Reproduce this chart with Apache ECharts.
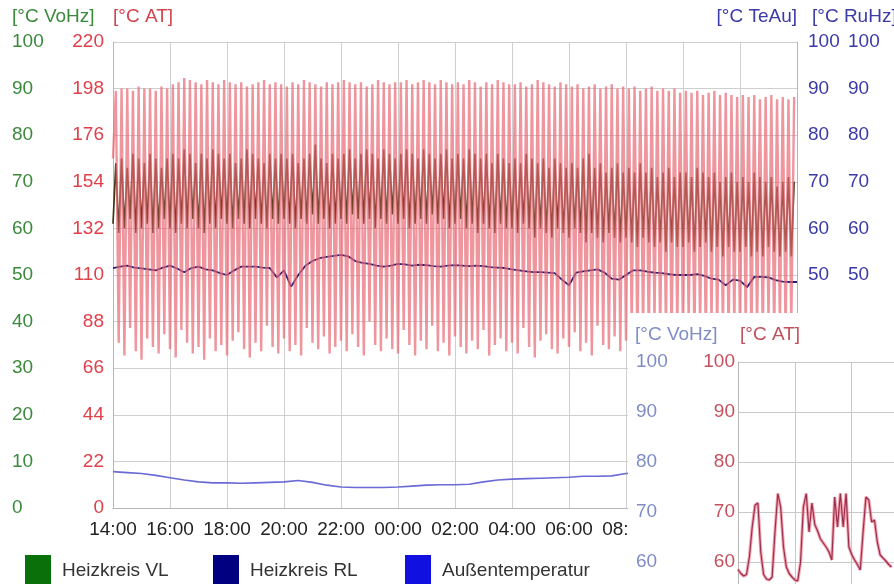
<!DOCTYPE html>
<html><head><meta charset="utf-8">
<script src="https://cdn.jsdelivr.net/npm/echarts@6/dist/echarts.min.js"></script>
<style>
html,body{margin:0;padding:0;width:894px;height:584px;overflow:hidden;background:#fff;}
#main{position:absolute;left:0;top:0;width:894px;height:584px;}
#inset{position:absolute;left:628px;top:313px;width:420px;height:600px;background:#fff;}
</style></head><body>
<div id="main"></div><div id="inset"></div>
<script>
// ---- main chart data (6-minute samples from 14:00) ----
const atPeak = [
197,198,198,197,199,198,198,197,199,198,
200,201,203,202,201,200,202,201,200,202,
201,200,201,199,200,201,202,200,201,200,
199,201,200,202,201,200,199,201,200,201,
202,201,200,201,199,200,202,201,200,201,
201,202,200,201,202,201,200,202,201,200,
201,200,202,201,199,201,200,202,201,200,
200,201,199,200,202,201,200,199,201,200,
199,200,198,199,200,198,199,200,198,199,
198,199,197,198,199,197,198,197,198,196,
197,196,197,195,196,197,195,196,195,194,
195,194,195,193,194,195,193,194,193,194];
const atTrough = [
165,78,72,85,74,70,80,76,73,82,
75,71,84,78,73,76,70,80,74,77,
72,79,83,75,71,78,74,86,76,73,
80,74,77,72,85,78,75,81,73,76,
79,74,82,76,72,88,77,74,80,75,
73,84,77,72,79,75,86,74,78,72,
81,76,73,79,75,84,72,77,80,74,
78,73,85,76,71,79,82,75,73,80,
76,83,74,78,72,86,77,75,81,74,
79,85,76,82,78,88,80,84,77,83,
80,86,78,84,79,87,81,83,78,85,
82,86,79,84,81,88,80,85,82,86];
const vlHigh = [
74,75,73,76,75,74,76,75,73,75,
76,75,77,76,74,76,75,77,76,75,
76,74,75,77,76,75,74,76,75,76,
75,76,74,75,76,78,75,74,76,75,
76,77,75,76,77,76,75,77,76,75,
76,77,76,75,77,76,75,76,77,75,
76,75,77,76,75,76,74,76,75,74,
75,74,76,75,74,75,73,75,74,73,
74,73,75,76,73,74,72,73,74,72,
73,72,74,72,73,71,72,73,71,72,
72,71,73,72,71,72,70,71,72,70,
71,70,72,71,70,71,69,70,71,70];
const vlLow = [
61,59,60,62,59,60,61,59,60,62,
60,59,61,60,62,60,59,61,60,62,
61,60,62,61,60,62,61,60,62,61,
62,61,60,62,61,63,61,62,60,61,
62,61,63,62,61,62,60,62,61,63,
61,62,60,61,62,61,63,61,62,60,
61,62,60,61,59,61,60,59,61,60,
60,59,61,60,58,60,59,58,60,59,
58,60,59,57,59,58,57,59,58,57,
58,57,56,58,57,56,57,55,57,56,
56,57,55,56,57,55,56,54,56,55,
55,56,54,55,54,56,55,54,55,54];
// Heizkreis RL, 15-minute samples
const rlValues = [
51.5,51.8,52.0,51.6,51.4,51.2,51.0,51.6,52.0,51.4,
50.6,51.5,51.8,51.2,51.0,50.4,50.0,51.0,51.8,51.8,
51.8,51.6,51.5,49.5,51.0,47.5,50.0,52.0,53.0,53.6,
53.9,54.1,54.3,54.0,53.0,52.6,52.4,52.0,51.8,52.0,
52.4,52.3,52.0,52.2,52.1,51.9,51.8,52.0,52.1,52.0,
51.9,52.0,51.9,51.7,51.6,51.5,51.2,51.0,50.8,50.6,
50.6,50.5,50.4,49.0,47.8,50.5,50.8,51.0,51.2,50.5,
49.2,49.0,50.0,51.0,51.0,50.7,50.5,50.4,50.2,50.0,
50.0,50.0,50.2,49.8,49.2,49.0,47.8,49.0,48.8,47.4,
49.6,49.6,49.5,48.9,48.6,48.5,48.5];
// Außentemperatur, 30-minute samples
const outValues = [
7.8,7.6,7.4,7.0,6.5,6.0,5.6,5.4,5.4,5.3,
5.4,5.5,5.6,5.9,5.5,4.9,4.5,4.4,4.4,4.4,
4.5,4.7,4.9,5.0,5.0,5.1,5.6,6.0,6.2,6.3,
6.4,6.5,6.6,6.8,6.8,6.9,7.4,7.5,7.6];
// ---- inset chart data ----
const insetAT = [
58.5,57.7,57.2,57.5,61,67,71.4,71.8,62,57.5,
56.6,56.4,57,66,73.7,71,63,59,57.7,57,
56.4,56.2,60,71,73.7,66,71.8,67.5,66.2,64.6,
63.8,63,62,60.4,73,67,73.7,67,73.7,63,
61.5,60.4,59.5,58.4,66,73,72.4,68,68.4,64,
61.4,60.8,60.2,59.5,59];

function hhmm(min){const t=(14*60+min)%(24*60);const h=Math.floor(t/60),m=t%60;return (h<10?'0':'')+h+':'+(m<10?'0':'')+m;}
const cats=[];for(let i=0;i<=240;i++)cats.push(hhmm(i*6));
const rlCats=[];for(let i=0;i<=96;i++)rlCats.push(hhmm(i*15));
const outCats=[];for(let i=0;i<=48;i++)outCats.push(hhmm(i*30));
const atData=[],vlData=[];
for(let k=0;k<atPeak.length;k++){atData.push(atTrough[k],atPeak[k]);vlData.push(vlLow[k],vlHigh[k]);}
const insetCats=[];for(let i=0;i<=102;i++)insetCats.push(String(i));

const FONT='"Liberation Sans", Arial, sans-serif';
const FS=19;
const GRIDC='#cfcfcf';

const main=echarts.init(document.getElementById('main'),null,{renderer:'canvas'});
function legendFor(name,color,left){
  return {data:[{name:name,itemStyle:{color:color,borderWidth:0}}],left:left,top:555,padding:0,icon:'rect',
    itemWidth:26,itemHeight:32,lineStyle:{opacity:0,width:0},
    textStyle:{fontFamily:FONT,fontSize:FS,color:'#333',padding:[0,0,0,6]}};
}
main.setOption({
  animation:false,
  backgroundColor:'#fff',
  grid:{left:113,right:97,top:42,bottom:76,containLabel:false},
  legend:[legendFor('Heizkreis VL','#0a700a',25),legendFor('Heizkreis RL','#000080',213),legendFor('Außentemperatur','#1010e0',405)],
  graphic:[
    {type:'text',left:12,top:7,style:{text:'[°C VoHz]',fill:'#3b8a3b',font:FS+'px '+FONT}},
    {type:'text',left:113,top:7,style:{text:'[°C AT]',fill:'#d0454f',font:FS+'px '+FONT}},
    {type:'text',right:97,top:7,style:{text:'[°C TeAu]',fill:'#3a3aa8',font:FS+'px '+FONT}},
    {type:'text',left:812,top:7,style:{text:'[°C RuHz]',fill:'#3a3aa8',font:FS+'px '+FONT}}
  ],
  xAxis:[
    {type:'category',data:cats,boundaryGap:false,
     axisLine:{show:true,lineStyle:{color:'#b5b5b5'}},axisTick:{show:false},
     axisLabel:{interval:19,margin:12,color:'#222',fontSize:FS,fontFamily:FONT},
     splitLine:{show:true,interval:19,lineStyle:{color:GRIDC}}},
    {type:'category',data:rlCats,boundaryGap:false,show:false},
    {type:'category',data:outCats,boundaryGap:false,show:false}
  ],
  yAxis:[
    {type:'value',position:'left',min:0,max:100,interval:10,
     axisLine:{show:false},axisTick:{show:false},
     axisLabel:{color:'#3b8a3b',align:'left',margin:101,fontSize:FS,fontFamily:FONT},
     splitLine:{show:true,lineStyle:{color:GRIDC}}},
    {type:'value',position:'left',min:0,max:220,interval:22,
     axisLine:{show:true,lineStyle:{color:'#b5b5b5'}},axisTick:{show:false},
     axisLabel:{color:'#e0404a',margin:9,fontSize:FS,fontFamily:FONT},splitLine:{show:false}},
    {type:'value',position:'right',min:0,max:100,interval:10,
     axisLine:{show:true,lineStyle:{color:'#b5b5b5'}},axisTick:{show:false},
     axisLabel:{color:'#3a3aa8',margin:11,fontSize:FS,fontFamily:FONT},splitLine:{show:false}},
    {type:'value',position:'right',min:0,max:100,interval:10,
     axisLine:{show:false},axisTick:{show:false},
     axisLabel:{color:'#3a3aa8',margin:51,fontSize:FS,fontFamily:FONT},splitLine:{show:false}}
  ],
  series:[
    {name:'Außentemperatur',type:'line',xAxisIndex:2,yAxisIndex:2,data:outValues,showSymbol:false,smooth:false,
     itemStyle:{color:'#1010e0'},lineStyle:{color:'#6a6ad6',width:1.6}},
    {name:'Heizkreis RL',type:'line',xAxisIndex:1,yAxisIndex:3,data:rlValues,showSymbol:false,
     itemStyle:{color:'#000080'},lineStyle:{color:'#2a1a70',width:1.8}},
    {name:'Heizkreis VL',type:'line',xAxisIndex:0,yAxisIndex:0,data:vlData,showSymbol:false,
     itemStyle:{color:'#0a700a'},lineStyle:{color:'#423612',width:1.7}},
    {name:'AT',type:'line',xAxisIndex:0,yAxisIndex:1,data:atData,showSymbol:false,
     itemStyle:{color:'#e05a66'},lineStyle:{color:'rgba(232,104,116,0.7)',width:2.4}}
  ]
});

const inset=echarts.init(document.getElementById('inset'),null,{renderer:'canvas'});
inset.setOption({
  animation:false,
  backgroundColor:'#fff',
  grid:{left:110,top:49,width:290,height:500},
  graphic:[
    {type:'text',left:7,top:12,style:{text:'[°C VoHz]',fill:'#7f8cc8',font:FS+'px '+FONT}},
    {type:'text',left:112,top:12,style:{text:'[°C AT]',fill:'#c0505a',font:FS+'px '+FONT}}
  ],
  xAxis:{type:'category',data:insetCats,boundaryGap:false,
    axisLine:{show:false},axisTick:{show:false},axisLabel:{show:false},
    splitLine:{show:true,interval:19,lineStyle:{color:'#c8c8c8'}}},
  yAxis:[
    {type:'value',position:'left',min:0,max:100,interval:10,
     axisLine:{show:false},axisTick:{show:false},
     axisLabel:{color:'#7f8cc8',align:'left',margin:102,fontSize:FS,fontFamily:FONT},
     splitLine:{show:true,lineStyle:{color:'#c8c8c8'}}},
    {type:'value',position:'left',min:0,max:100,interval:10,
     axisLine:{show:true,lineStyle:{color:'#b5b5b5'}},axisTick:{show:false},
     axisLabel:{color:'#c8505e',margin:3,fontSize:FS,fontFamily:FONT},splitLine:{show:false}}
  ],
  series:[
    {type:'line',yAxisIndex:1,data:insetAT,showSymbol:false,lineStyle:{color:'rgba(240,140,155,0.8)',width:3.2}},
    {type:'line',yAxisIndex:1,data:insetAT,showSymbol:false,lineStyle:{color:'#9a3050',width:1.2}}
  ]
});
</script></body></html>
